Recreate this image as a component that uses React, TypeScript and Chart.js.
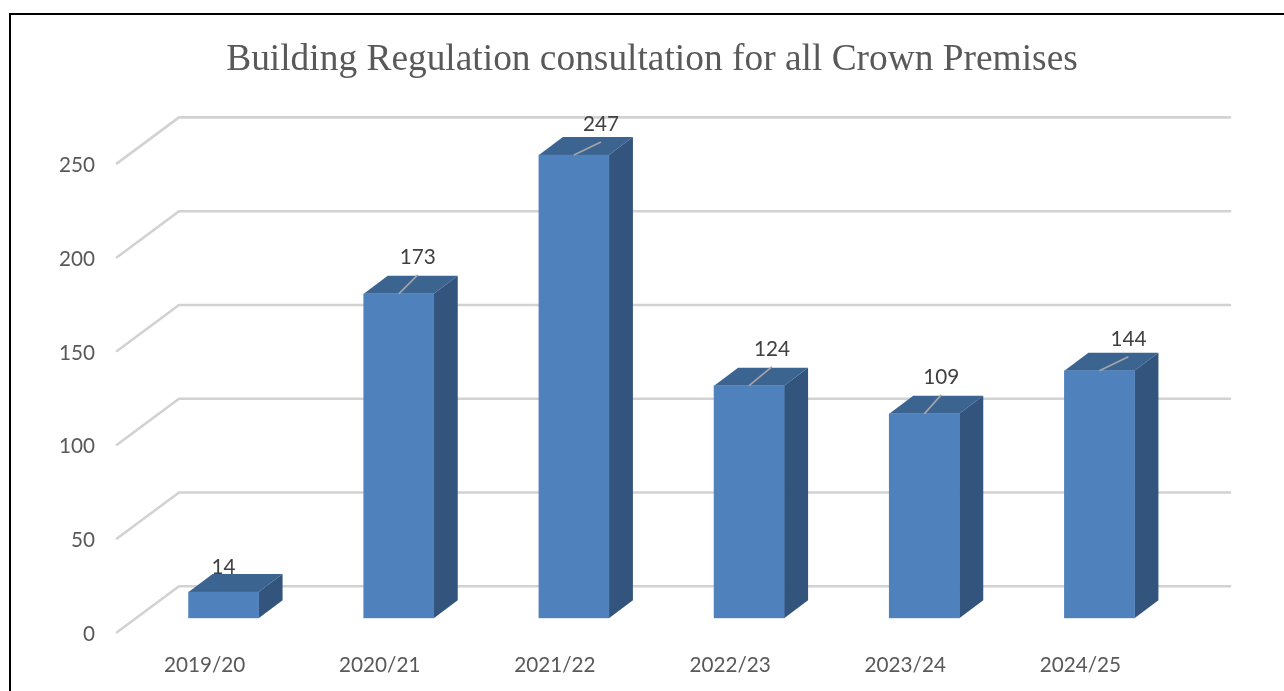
import React, { useEffect, useRef } from "react";
import { Chart, registerables } from "chart.js";

Chart.register(...registerables);

const categories = ["2019/20", "2020/21", "2021/22", "2022/23", "2023/24", "2024/25"];
const barValues = [14, 173, 247, 124, 109, 132];
const labelTexts = ["14", "173", "247", "124", "109", "144"];
const yTicks = [0, 50, 100, 150, 200, 250];
const chartTitle = "Building Regulation consultation for all Crown Premises";

// Offsets of each data label from the bar's top-front centre (px)
const labelDx = [0, 19, 27, 23, 17, 29];
const labelDy = [-24.5, -36.5, -30.5, -36.5, -36.5, -31.5];

const FRONT_COLOR = "#4f81bd";
const TOP_COLOR = "#3c6491";
const SIDE_COLOR = "#33547d";
const GRID_COLOR = "#d2d2d2";
const FONT_SIZE = 20.7;

const BAR_W = 70;
const BAR_DX = 24;
const BAR_DY = 18;
const WALL_DX = 43;
const WALL_DY = 32;
const FLOOR_DX = 19;
const FLOOR_DY = 14;

const scenePlugin = {
  id: "scene3d",
  beforeDraw(chart: any) {
    const { ctx, width, height, chartArea, scales } = chart;
    ctx.save();
    ctx.fillStyle = "#ffffff";
    ctx.fillRect(0, 0, width, height);
    ctx.strokeStyle = "#000000";
    ctx.lineWidth = 2;
    ctx.beginPath();
    ctx.moveTo(10, height + 2);
    ctx.lineTo(10, 14);
    ctx.lineTo(width + 2, 14);
    ctx.stroke();

    ctx.fillStyle = "#595959";
    ctx.font = "37.4px 'Liberation Serif'";
    ctx.textAlign = "center";
    ctx.textBaseline = "middle";
    ctx.fillText(chartTitle, 652, 60);

    ctx.strokeStyle = GRID_COLOR;
    ctx.lineWidth = 2.6;
    ctx.lineCap = "round";
    ctx.lineJoin = "round";
    for (const v of yTicks) {
      const y = scales.y.getPixelForValue(v);
      ctx.beginPath();
      ctx.moveTo(chartArea.left - FLOOR_DX, y + FLOOR_DY);
      ctx.lineTo(chartArea.left + WALL_DX, y - WALL_DY);
      ctx.lineTo(chartArea.right + WALL_DX, y - WALL_DY);
      ctx.stroke();
    }
    ctx.restore();
  },
  beforeDatasetsDraw(chart: any) {
    const { ctx, scales } = chart;
    const base = scales.y.getPixelForValue(0);
    ctx.save();
    barValues.forEach((v, i) => {
      const cx = scales.x.getPixelForValue(i);
      const top = scales.y.getPixelForValue(v);
      const l = cx - BAR_W / 2;
      const r = cx + BAR_W / 2;
      ctx.fillStyle = TOP_COLOR;
      ctx.beginPath();
      ctx.moveTo(l, top);
      ctx.lineTo(l + BAR_DX, top - BAR_DY);
      ctx.lineTo(r + BAR_DX, top - BAR_DY);
      ctx.lineTo(r, top);
      ctx.closePath();
      ctx.fill();
      ctx.fillStyle = SIDE_COLOR;
      ctx.beginPath();
      ctx.moveTo(r, top);
      ctx.lineTo(r + BAR_DX, top - BAR_DY);
      ctx.lineTo(r + BAR_DX, base - BAR_DY);
      ctx.lineTo(r, base);
      ctx.closePath();
      ctx.fill();
    });
    ctx.restore();
  },
  afterDatasetsDraw(chart: any) {
    const { ctx, scales } = chart;
    ctx.save();
    ctx.font = `${FONT_SIZE}px Lato`;
    ctx.fillStyle = "#404040";
    ctx.textAlign = "center";
    ctx.textBaseline = "middle";
    labelTexts.forEach((t, i) => {
      const cx = scales.x.getPixelForValue(i);
      const top = scales.y.getPixelForValue(barValues[i]);
      const lx = cx + labelDx[i];
      const ly = top + labelDy[i];
      if (labelDx[i] !== 0) {
        ctx.strokeStyle = "#a6a6a6";
        ctx.lineWidth = 1.6;
        ctx.beginPath();
        ctx.moveTo(cx, top);
        ctx.lineTo(lx, ly + 17.5);
        ctx.stroke();
      }
      ctx.fillText(t, lx, ly);
    });
    ctx.restore();
  },
};

export default function App() {
  const ref = useRef<HTMLCanvasElement | null>(null);
  useEffect(() => {
    if (!ref.current) return;
    const chart = new Chart(ref.current, {
      type: "bar",
      data: {
        labels: categories,
        datasets: [
          {
            data: barValues,
            backgroundColor: FRONT_COLOR,
            barThickness: BAR_W,
          },
        ],
      },
      options: {
        animation: false,
        responsive: false,
        layout: { padding: { left: 20, right: 97, top: 149.4, bottom: 0 } },
        plugins: {
          legend: { display: false },
          tooltip: { enabled: false },
          title: { display: false },
        },
        scales: {
          x: {
            grid: { display: false, drawTicks: false },
            border: { display: false },
            ticks: {
              color: "#595959",
              font: { family: "Lato", size: FONT_SIZE },
              labelOffset: -19,
              padding: 35,
              maxRotation: 0,
              autoSkip: false,
            },
            afterFit(scale: any) {
              scale.height = 72.7;
            },
          },
          y: {
            min: 0,
            max: 250,
            afterBuildTicks(scale: any) {
              scale.ticks = yTicks.map((value) => ({ value }));
            },
            grid: { display: false, drawTicks: false },
            border: { display: false },
            ticks: {
              color: "#595959",
              font: { family: "Lato", size: FONT_SIZE },
              labelOffset: 16,
              padding: 41,
            },
            afterFit(scale: any) {
              scale.width = 116;
            },
          },
        },
      },
      plugins: [scenePlugin],
    } as any);
    return () => chart.destroy();
  }, []);
  return (
    <canvas
      ref={ref}
      width={1284}
      height={691}
      style={{ position: "fixed", left: 0, top: 0, display: "block" }}
    />
  );
}
